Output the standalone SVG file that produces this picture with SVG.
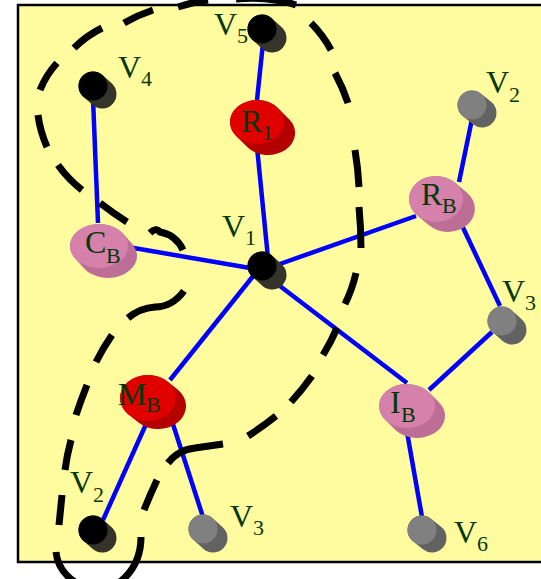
<svg xmlns="http://www.w3.org/2000/svg" width="541" height="579" viewBox="0 0 541 579">
<style>
.frame{fill:#FFFC9F;stroke:#000;stroke-width:2.5}
.edge{stroke:#0000FF;stroke-width:4.5;stroke-linecap:butt;fill:none}
.lasso{stroke:#000;stroke-width:7;fill:none;stroke-linecap:butt}
.cb{stroke-width:29;stroke-linecap:round}
.pb{stroke-width:2;stroke-linecap:round}
.bk .body{stroke:#34342a}.bk .top{fill:#000}
.gr .body{stroke:#626262}.gr .top{fill:#808080}
.rd .body{stroke:#b50000}.rd .top{fill:#e00000}
.pk .body{stroke:#bd6e97}.pk .top{fill:#d581ab}
text{font-family:"Liberation Serif","Times New Roman",serif;fill:#063806}
.v{font-size:32px}
.s{font-size:22px}
</style>
<rect class="frame" x="18" y="5" width="540" height="557"/>
<g id="connectors">
<line class="edge" x1="263" y1="43" x2="257" y2="100"/>
<line class="edge" x1="257" y1="147" x2="268" y2="258"/>
<line class="edge" x1="93" y1="98" x2="98" y2="223"/>
<line class="edge" x1="128" y1="247" x2="250" y2="268"/>
<line class="edge" x1="277" y1="265" x2="416" y2="216"/>
<line class="edge" x1="459" y1="182" x2="472" y2="119"/>
<line class="edge" x1="458" y1="217" x2="500" y2="306"/>
<line class="edge" x1="492" y1="332" x2="429" y2="390"/>
<line class="edge" x1="276" y1="283" x2="407" y2="383"/>
<line class="edge" x1="254" y1="275" x2="170" y2="380"/>
<line class="edge" x1="147" y1="422" x2="103" y2="520"/>
<line class="edge" x1="170" y1="415" x2="203" y2="517"/>
<line class="edge" x1="407" y1="432" x2="422" y2="517"/>
</g>
<g id="V5" class="bk"><line class="body cb" x1="262" y1="29" x2="272" y2="38"/><circle class="top" cx="262" cy="29" r="14.5"/><text class="v" x="214" y="35">V</text><text class="s" x="237" y="43">5</text></g>
<g id="V4" class="bk"><line class="body cb" x1="93" y1="86" x2="102" y2="94"/><circle class="top" cx="93" cy="86" r="14.5"/><text class="v" x="118" y="78">V</text><text class="s" x="141" y="86">4</text></g>
<g id="V1" class="bk"><line class="body cb" x1="262" y1="266" x2="272" y2="275"/><circle class="top" cx="262" cy="266" r="14.5"/><text class="v" x="222" y="237">V</text><text class="s" x="245" y="245">1</text></g>
<g id="V2b" class="bk"><line class="body cb" x1="93" y1="530" x2="102" y2="538"/><circle class="top" cx="93" cy="530" r="14.5"/><text class="v" x="70" y="493">V</text><text class="s" x="93" y="502">2</text></g>
<g id="V2a" class="gr"><line class="body cb" x1="472" y1="105" x2="482" y2="113"/><circle class="top" cx="472" cy="105" r="14.5"/><text class="v" x="486" y="93">V</text><text class="s" x="509" y="102">2</text></g>
<g id="V3a" class="gr"><line class="body cb" x1="502" y1="321" x2="512" y2="330"/><circle class="top" cx="502" cy="321" r="14.5"/><text class="v" x="502" y="302">V</text><text class="s" x="525" y="310">3</text></g>
<g id="V3b" class="gr"><line class="body cb" x1="203" y1="529" x2="213" y2="538"/><circle class="top" cx="203" cy="529" r="14.5"/><text class="v" x="230" y="527">V</text><text class="s" x="253" y="535">3</text></g>
<g id="V6" class="gr"><line class="body cb" x1="422" y1="530" x2="432" y2="538"/><circle class="top" cx="422" cy="530" r="14.5"/><text class="v" x="454" y="543">V</text><text class="s" x="477" y="551">6</text></g>
<g id="R1" class="rd"><g transform="translate(257,122) scale(27,22)"><line class="body pb" x1="0" y1="0" x2="0.41" y2="0.5"/><circle class="top" cx="0" cy="0" r="1"/></g><text class="v" x="241" y="132">R</text><text class="s" x="262" y="140">1</text></g>
<g id="RB" class="pk"><g transform="translate(436,199) scale(27,23)"><line class="body pb" x1="0" y1="0" x2="0.44" y2="0.43"/><circle class="top" cx="0" cy="0" r="1"/></g><text class="v" x="421" y="205">R</text><text class="s" x="442" y="213">B</text></g>
<g id="CB" class="pk"><g transform="translate(99,246) scale(29,22)"><line class="body pb" x1="0" y1="0" x2="0.31" y2="0.45"/><circle class="top" cx="0" cy="0" r="1"/></g><text class="v" x="85" y="253">C</text><text class="s" x="106" y="263">B</text></g>
<g id="MB" class="rd"><g transform="translate(148,398) scale(28,23)"><line class="body pb" x1="0" y1="0" x2="0.36" y2="0.35"/><circle class="top" cx="0" cy="0" r="1"/></g><text class="v" x="118" y="405">M</text><text class="s" x="146" y="412">B</text></g>
<g id="IB" class="pk"><g transform="translate(407,406) scale(28,22)"><line class="body pb" x1="0" y1="0" x2="0.36" y2="0.45"/><circle class="top" cx="0" cy="0" r="1"/></g><text class="v" x="390" y="413">I</text><text class="s" x="401" y="422">B</text></g>
<path class="lasso" d="M178,7 Q193,2 208,0 M236,-1 Q268,-4 296,5 M311,23 Q323,35 331,50 M335,73 Q343,88 348,103 M355,150 Q358,168 359,187 M359,207 Q361,228 361,248 M356,273 Q352,290 345,304 M337,328 Q331,342 323,355 M312,376 Q302,390 291,402 M276,416 Q262,427 248,436 M223,444 L195,448 Q178,450 168,463 M157,480 Q150,495 144,510 M141,537 Q141,565 120,582 M56,552 Q58,572 78,584 M59,525 L62,495 M65,470 Q67,455 71,440 M76,415 Q81,400 87,385 M96,362 Q103,348 112,335 M128,318 Q140,308 155,307 Q172,307 184,291 M150,233 Q156,227 160,232 Q176,235 183,250 M127,222 Q113,213 100,203 M82,190 Q68,179 58,165 M47,147 Q40,131 38,115 M40,90 Q46,75 57,63 M74,48 Q86,36 102,28 M124,23 Q138,15 153,10"/>
</svg>
